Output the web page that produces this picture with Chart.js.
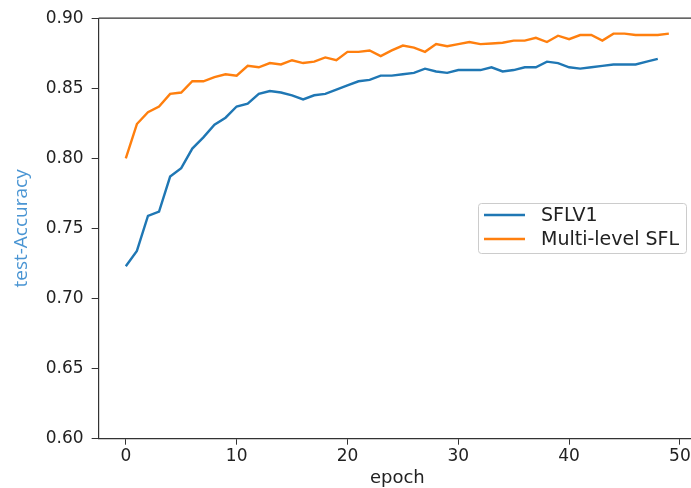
<!DOCTYPE html>
<html lang="en">

<head>
    <meta charset="UTF-8" />
    <title>test-Accuracy per epoch</title>
    <script src="https://cdn.jsdelivr.net/npm/chart.js"></script>
    <style>
        body {
            margin: 0;
            background-color: #ffffff;
            overflow: hidden;
        }

        .wrap {
            position: relative;
            width: 700px;
            height: 488px;
        }
    </style>
</head>

<body>
    <div class="wrap">
        <canvas id="accChart"></canvas>
    </div>

    <script>
        const epochs = [0, 1, 2, 3, 4, 5, 6, 7, 8, 9, 10, 11, 12, 13, 14, 15, 16, 17, 18, 19,
            20, 21, 22, 23, 24, 25, 26, 27, 28, 29, 30, 31, 32, 33, 34, 35, 36, 37, 38, 39,
            40, 41, 42, 43, 44, 45, 46, 47, 48, 49];

        const sflv1 = [0.723, 0.734, 0.759, 0.762, 0.787, 0.793, 0.807, 0.815, 0.824, 0.829,
            0.837, 0.839, 0.846, 0.848, 0.847, 0.845, 0.842, 0.845, 0.846, 0.849,
            0.852, 0.855, 0.856, 0.859, 0.859, 0.860, 0.861, 0.864, 0.862, 0.861,
            0.863, 0.863, 0.863, 0.865, 0.862, 0.863, 0.865, 0.865, 0.869, 0.868,
            0.865, 0.864, 0.865, 0.866, 0.867, 0.867, 0.867, 0.869, 0.871];

        const multiLevel = [0.800, 0.8245, 0.833, 0.837, 0.846, 0.847, 0.855, 0.855, 0.858, 0.860,
            0.859, 0.866, 0.865, 0.868, 0.867, 0.870, 0.868, 0.869, 0.872, 0.870,
            0.876, 0.876, 0.877, 0.873, 0.877, 0.8805, 0.879, 0.876, 0.8815, 0.880,
            0.8815, 0.883, 0.8815, 0.882, 0.8825, 0.884, 0.884, 0.886, 0.883, 0.8875,
            0.885, 0.888, 0.888, 0.884, 0.889, 0.889, 0.888, 0.888, 0.888, 0.889];

        const seriesNames = ['SFLV1', 'Multi-level SFL'];
        const xTicks = [0, 10, 20, 30, 40, 50];
        const yTicks = [0.60, 0.65, 0.70, 0.75, 0.80, 0.85, 0.90];

        const FONT = '"DejaVu Sans", sans-serif';

        function toPoints(values) {
            return values.map((v, i) => ({ x: epochs[i], y: v }));
        }

        // top/right spines of the axes box
        const boxPlugin = {
            id: 'box',
            afterDatasetsDraw(chart) {
                const { ctx, chartArea: a } = chart;
                ctx.save();
                ctx.strokeStyle = '#333';
                ctx.lineWidth = 1.2;
                ctx.beginPath();
                ctx.moveTo(a.left, a.top);
                ctx.lineTo(a.right, a.top);
                ctx.lineTo(a.right, a.bottom);
                ctx.stroke();
                ctx.restore();
            }
        };

        // legend box drawn inside the plot, centre right
        const innerLegend = {
            id: 'innerLegend',
            afterDraw(chart) {
                const { ctx } = chart;
                const x = 478, y = 203, w = 208, h = 50;
                ctx.save();
                ctx.fillStyle = 'rgba(255,255,255,0.85)';
                ctx.strokeStyle = '#cccccc';
                ctx.lineWidth = 1;
                ctx.beginPath();
                ctx.roundRect(x + 0.5, y + 0.5, w, h, 3);
                ctx.fill();
                ctx.stroke();
                ctx.font = '19px ' + FONT;
                ctx.textBaseline = 'middle';
                chart.data.datasets.forEach((ds, i) => {
                    const ly = y + 12 + i * 24;
                    ctx.strokeStyle = ds.borderColor;
                    ctx.lineWidth = 2.4;
                    ctx.beginPath();
                    ctx.moveTo(x + 6, ly);
                    ctx.lineTo(x + 47, ly);
                    ctx.stroke();
                    ctx.fillStyle = '#222';
                    ctx.fillText(ds.label, x + 63, ly + 1);
                });
                ctx.restore();
            }
        };

        const ctx = document.getElementById('accChart').getContext('2d');

        new Chart(ctx, {
            type: 'line',
            data: {
                datasets: [
                    {
                        label: seriesNames[0],
                        data: toPoints(sflv1),
                        borderColor: '#1f77b4',
                        borderWidth: 2.4,
                        pointRadius: 0,
                        tension: 0,
                        fill: false,
                    },
                    {
                        label: seriesNames[1],
                        data: toPoints(multiLevel),
                        borderColor: '#ff7f0e',
                        borderWidth: 2.4,
                        pointRadius: 0,
                        tension: 0,
                        fill: false,
                    },
                ],
            },
            options: {
                responsive: true,
                maintainAspectRatio: false,
                animation: false,
                layout: {
                    padding: { top: 11.5, right: 4, left: 0, bottom: 0 },
                },
                plugins: {
                    legend: { display: false },
                    tooltip: { enabled: false },
                },
                scales: {
                    x: {
                        type: 'linear',
                        min: -2.45,
                        max: 51.45,
                        afterBuildTicks(axis) {
                            axis.ticks = xTicks.map(v => ({ value: v }));
                        },
                        ticks: {
                            color: '#222',
                            font: { family: FONT, size: 17 },
                            padding: 2,
                            maxRotation: 0,
                        },
                        grid: {
                            drawOnChartArea: false,
                            drawTicks: true,
                            tickLength: 6,
                            color: '#333',
                        },
                        border: { display: true, color: '#333', width: 1.2 },
                        title: {
                            display: true,
                            text: 'epoch',
                            color: '#222',
                            font: { family: FONT, size: 18, lineHeight: 1.05 },
                            padding: { top: 0, bottom: 0 },
                        },
                    },
                    y: {
                        min: 0.60,
                        max: 0.90,
                        afterBuildTicks(axis) {
                            axis.ticks = yTicks.map(v => ({ value: v }));
                        },
                        ticks: {
                            color: '#222',
                            font: { family: FONT, size: 17 },
                            padding: 8,
                            callback: v => Number(v).toFixed(2),
                        },
                        grid: {
                            drawOnChartArea: false,
                            drawTicks: true,
                            tickLength: 7,
                            color: '#333',
                        },
                        border: { display: true, color: '#333', width: 1.2 },
                        title: {
                            display: true,
                            text: 'test-Accuracy',
                            color: '#4a95d3',
                            font: { family: '"Open Sans", sans-serif', size: 19 },
                            padding: { top: 10, bottom: 5 },
                        },
                    },
                },
            },
            plugins: [boxPlugin, innerLegend],
        });
    </script>
</body>

</html>
